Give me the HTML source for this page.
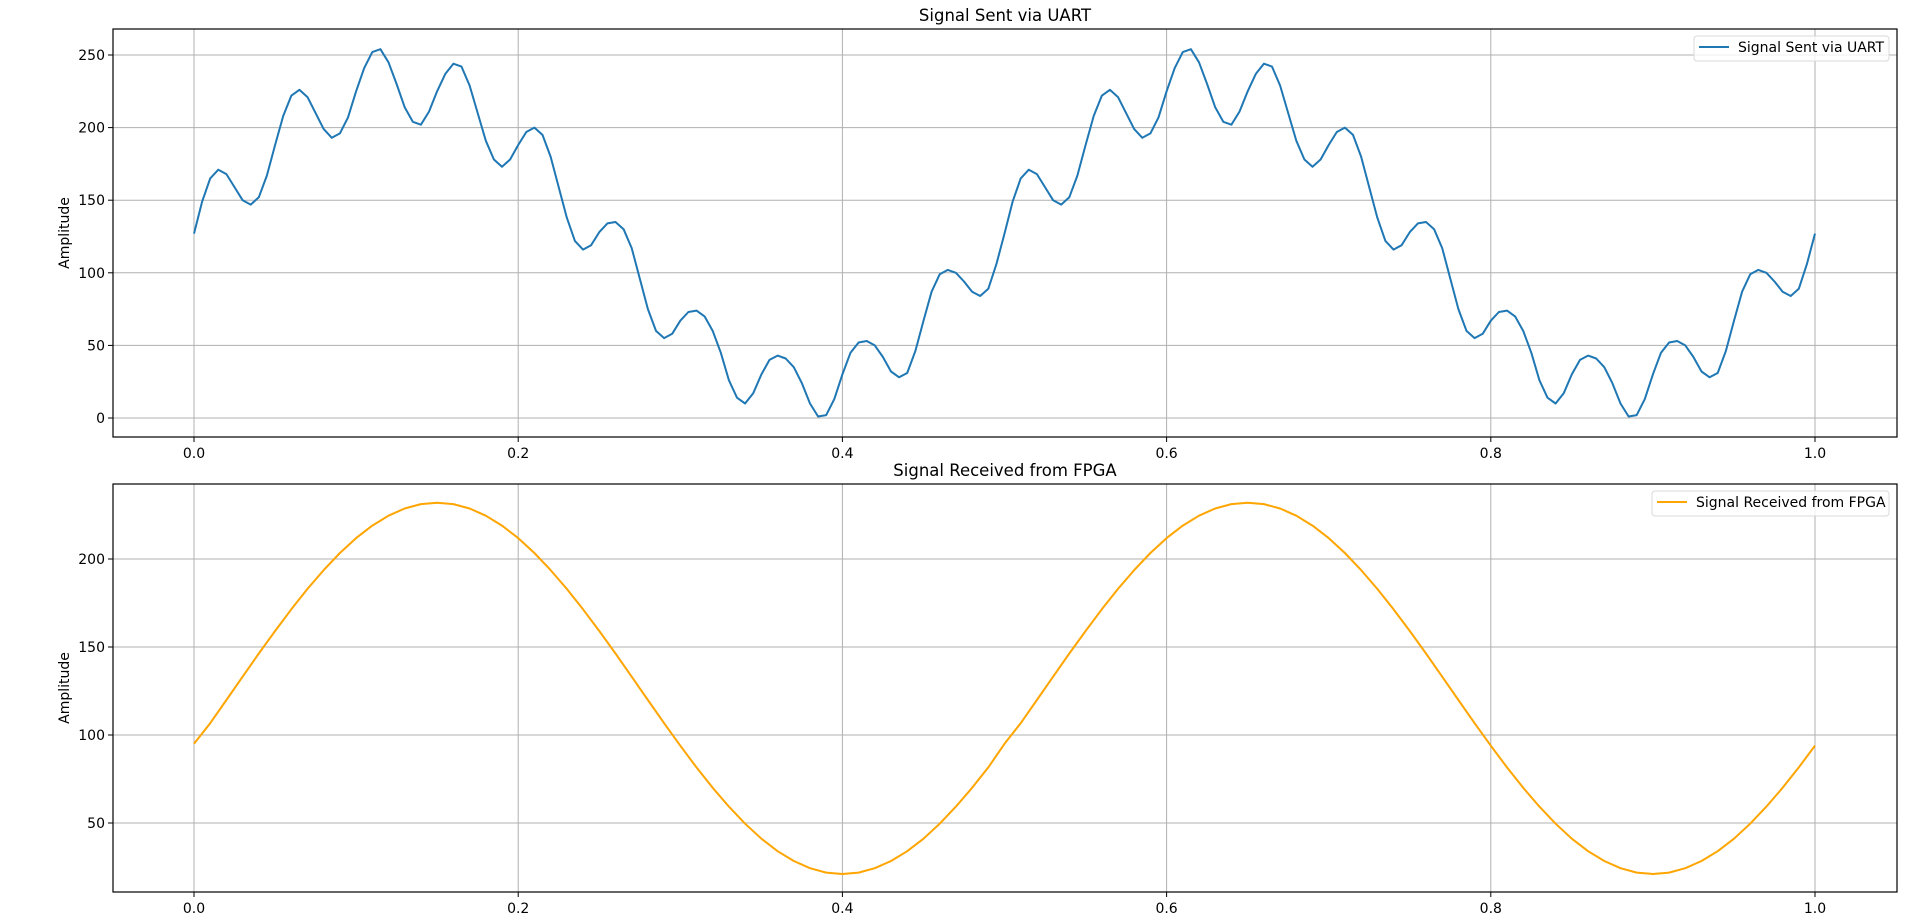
<!DOCTYPE html>
<html><head><meta charset="utf-8">
<style>
html,body{margin:0;padding:0;background:#fff;}
svg{display:block;font-family:"DejaVu Sans","Liberation Sans",sans-serif;}
</style></head>
<body>
<svg id="fig" width="1920" height="922" viewBox="0 0 1920 922" xmlns="http://www.w3.org/2000/svg"></svg>
<script>
// ---- data ----
const uartXStep = 0.005;
const uartPeriod = [127,149,165,171,168,159,150,147,152,167,188,208,222,226,221,210,199,193,196,207,225,241,252,254,245,230,214,204,202,211,225,237,244,242,229,210,191,178,173,178,188,197,200,195,180,159,138,122,116,119,128,134,135,130,117,96,75,60,55,58,67,73,74,70,60,45,26,14,10,17,30,40,43,41,35,24,10,1,2,13,30,45,52,53,50,42,32,28,31,46,67,87,99,102,100,94,87,84,89,106];
const uartValues = uartPeriod.concat(uartPeriod).concat([127]);
const fpgaXStep = 0.01;
const fpgaPeriod = [95,106.7,119.9,133.1,146.3,159.1,171.4,183.0,193.7,203.4,211.9,219.0,224.6,228.7,231.2,232,231.2,228.7,224.6,219.0,211.9,203.4,193.7,183.0,171.4,159.1,146.3,133.1,119.9,106.7,93.9,81.6,70.0,59.3,49.6,41.1,34.0,28.4,24.3,21.8,21,21.8,24.3,28.4,34.0,41.1,49.6,59.3,70.0,81.6];
const fpgaValues = fpgaPeriod.concat(fpgaPeriod).concat([94]);
const xTicks = [0.0,0.2,0.4,0.6,0.8,1.0];
const xTickLabels = ["0.0","0.2","0.4","0.6","0.8","1.0"];
const topYTicks = [0,50,100,150,200,250];
const botYTicks = [50,100,150,200];

const NS="http://www.w3.org/2000/svg";
const svg=document.getElementById('fig');
function mk(tag,attrs,parent){const e=document.createElementNS(NS,tag);for(const k in attrs)e.setAttribute(k,attrs[k]);(parent||svg).appendChild(e);return e;}

const L=113,R=1897;
const xS=v=>194+v*1621;
const panels=[
 {top:29,bot:437,y:v=>418-v*1.452,ticks:topYTicks,vals:uartValues,step:uartXStep,color:'#1f77b4',title:'Signal Sent via UART',name:'uart',leg:{x:1694,y:36,w:195}},
 {top:484,bot:892,y:v=>559+(200-v)*1.76,ticks:botYTicks,vals:fpgaValues,step:fpgaXStep,color:'#ffa500',title:'Signal Received from FPGA',name:'fpga',leg:{x:1652,y:491,w:237}}
];
panels.forEach(p=>{
  const g=mk('g',{});
  
  
  xTicks.forEach((t,i)=>{
    const l=mk('line',{x1:xS(t),x2:xS(t),y1:p.top,y2:p.bot,stroke:'#b0b0b0','stroke-width':1},g);
    
    
    mk('line',{x1:xS(t),x2:xS(t),y1:p.bot,y2:p.bot+5,stroke:'#000','stroke-width':1},g);
    const tx=mk('text',{x:xS(t),y:p.bot+21,'text-anchor':'middle','font-size':14,fill:'#000'},g);
    tx.textContent=xTickLabels[i];
    
    
  });
  p.ticks.forEach(t=>{
    const y=p.y(t);
    const l=mk('line',{x1:L,x2:R,y1:y,y2:y,stroke:'#b0b0b0','stroke-width':1},g);
    
    
    mk('line',{x1:L-5,x2:L,y1:y,y2:y,stroke:'#000','stroke-width':1},g);
    const tx=mk('text',{x:L-8,y:y+5,'text-anchor':'end','font-size':14,fill:'#000'},g);
    tx.textContent=String(t);
    
    
  });
  const pts=p.vals.map((v,i)=>xS(i*p.step).toFixed(1)+','+p.y(v).toFixed(1)).join(' ');
  const pl=mk('polyline',{points:pts,fill:'none',stroke:p.color,'stroke-width':2,'stroke-linejoin':'round'},g);
  
  
  const fr=mk('rect',{x:L,y:p.top,width:R-L,height:p.bot-p.top,fill:'none',stroke:'#000','stroke-width':1.2},g);
  
  
  const ti=mk('text',{x:(L+R)/2,y:p.top-8,'text-anchor':'middle','font-size':16.5,fill:'#000'},g);
  ti.textContent=p.title;
  
  
  const cy=(p.top+p.bot)/2;
  const yl=mk('text',{x:69,y:cy,'text-anchor':'middle','font-size':14,fill:'#000',transform:`rotate(-90 69 ${cy})`},g);
  yl.textContent='Amplitude';
  
  
  const lg=mk('g',{},g);
  
  
  mk('rect',{x:p.leg.x,y:p.leg.y,width:p.leg.w,height:25,rx:3,fill:'#fff','fill-opacity':0.8,stroke:'#d9d9d9','stroke-width':1},lg);
  const ll=mk('line',{x1:p.leg.x+5,x2:p.leg.x+35,y1:p.leg.y+11,y2:p.leg.y+11,stroke:p.color,'stroke-width':2},lg);
  
  
  const lt=mk('text',{x:p.leg.x+44,y:p.leg.y+16,'font-size':14,fill:'#000'},lg);
  lt.textContent=p.title;
  
  
});
</script>
</body></html>
